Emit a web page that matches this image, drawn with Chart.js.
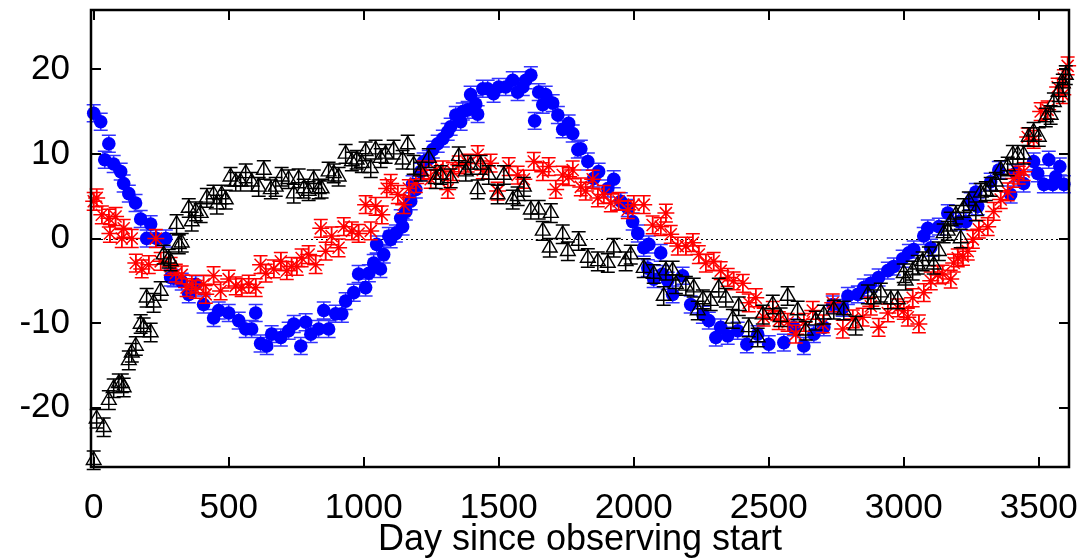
<!DOCTYPE html>
<html>
<head>
<meta charset="utf-8">
<script src="https://cdn.jsdelivr.net/npm/chart.js@4.4.1/dist/chart.umd.min.js"></script>
<style>
  html, body { margin: 0; padding: 0; background: #fff; }
  #wrap { width: 1086px; height: 558px; position: relative; }
</style>
</head>
<body>
<div id="wrap"><canvas id="chart"></canvas></div>
<script>
// blue filled circles
const blueDays = [0, 26, 41, 56, 74, 100, 111, 130, 155, 174, 196, 211, 233, 267, 285, 296, 326, 352, 378, 407,
  444, 463, 500, 537, 563, 585, 600, 618, 641, 659, 693, 722, 741, 767, 785, 804, 833, 852, 870, 896,
  919, 933, 963, 981, 1007, 1019, 1037, 1048, 1062, 1074, 1093, 1100, 1119, 1137, 1144, 1156, 1174, 1181, 1193, 1211,
  1222, 1241, 1256, 1274, 1293, 1311, 1322, 1341, 1359, 1367, 1385, 1396, 1415, 1422, 1441, 1459, 1481, 1500, 1526, 1552,
  1570, 1589, 1600, 1619, 1633, 1648, 1663, 1674, 1700, 1719, 1737, 1759, 1774, 1793, 1804, 1830, 1852, 1870, 1904, 1926,
  1952, 1978, 1996, 2015, 2037, 2052, 2056, 2074, 2100, 2107, 2126, 2144, 2181, 2211, 2256, 2278, 2304, 2322, 2348, 2385,
  2419, 2459, 2500, 2556, 2593, 2630, 2667, 2704, 2737, 2774, 2793, 2830, 2852, 2878, 2907, 2941, 2963, 2996, 3019, 3037,
  3074, 3089, 3100, 3130, 3163, 3204, 3230, 3248, 3267, 3274, 3322, 3352, 3396, 3415, 3444, 3481, 3496, 3519, 3537, 3552,
  3563, 3578, 3593];
const blueValues = [14.8, 13.8, 9.3, 11.2, 8.8, 7.9, 6.5, 5.3, 4.2, 2.3, 0.0, 1.7, 0.0, 0.0, -4.6, -4.7, -5.1, -6.6, -5.4, -7.8,
  -9.4, -8.5, -8.8, -9.7, -10.7, -10.7, -8.8, -12.4, -12.7, -11.3, -11.7, -10.9, -10.1, -12.7, -9.9, -11.3, -10.7, -8.5, -10.7, -8.9,
  -8.9, -7.4, -6.4, -4.2, -5.8, -4.1, -2.9, -0.7, -3.6, -1.9, 0.3, -0.1, 0.6, 2.4, 1.4, 3.2, 4.4, 6.4, 5.8, 7.9,
  9.1, 9.4, 10.5, 11.2, 11.8, 12.6, 13.2, 14.6, 13.8, 15.0, 15.2, 17.0, 15.9, 14.7, 17.7, 17.7, 17.1, 17.9, 17.9, 18.7,
  17.3, 17.9, 18.7, 19.3, 13.9, 17.3, 15.8, 17.0, 16.0, 14.6, 12.9, 13.6, 12.4, 10.5, 10.6, 9.1, 7.1, 7.9, 5.9, 7.0,
  4.4, 3.6, 2.0, 0.6, -1.1, -3.5, -0.7, -4.8, -1.7, -4.2, -5.0, -6.6, -4.4, -7.8, -9.0, -9.7, -11.7, -10.5, -11.5, -10.9,
  -12.5, -11.3, -12.5, -12.3, -10.5, -12.7, -11.3, -10.5, -7.8, -8.2, -6.8, -6.6, -5.8, -5.3, -4.6, -3.8, -3.3, -2.4, -1.7, -1.3,
  0.3, 1.2, -1.1, 1.4, 3.0, 2.0, 2.0, 4.4, 5.5, 3.8, 6.7, 8.1, 5.2, 7.7, 6.5, 9.1, 7.7, 6.4, 9.3, 6.4,
  7.3, 8.5, 6.4];

// black open triangles
const blackDays = [0, 11, 37, 56, 74, 93, 104, 111, 130, 141, 156, 174, 185, 196, 211, 222, 248, 259, 278, 285,
  307, 315, 326, 352, 363, 378, 396, 419, 444, 456, 474, 489, 507, 526, 544, 563, 585, 611, 630, 656,
  674, 696, 722, 741, 759, 778, 796, 815, 833, 844, 870, 889, 907, 933, 956, 974, 993, 1007, 1026, 1044,
  1063, 1081, 1111, 1144, 1163, 1185, 1211, 1241, 1267, 1285, 1322, 1352, 1378, 1396, 1422, 1433, 1463, 1496, 1519, 1552,
  1570, 1593, 1619, 1648, 1663, 1689, 1693, 1737, 1756, 1796, 1830, 1867, 1904, 1926, 1970, 1989, 2037, 2074, 2111, 2119,
  2144, 2156, 2193, 2222, 2237, 2256, 2285, 2315, 2341, 2367, 2389, 2426, 2459, 2478, 2515, 2544, 2570, 2607, 2637, 2674,
  2704, 2741, 2778, 2822, 2867, 2889, 2915, 2952, 2978, 3000, 3007, 3033, 3052, 3070, 3093, 3111, 3130, 3148, 3163, 3174,
  3193, 3211, 3222, 3241, 3267, 3285, 3304, 3322, 3341, 3359, 3385, 3404, 3422, 3444, 3463, 3481, 3500, 3526, 3544, 3556,
  3574, 3589, 3600];
const blackValues = [-26.2, -21.3, -22.3, -19.1, -17.7, -17.1, -17.1, -17.6, -14.4, -13.5, -12.7, -10.1, -10.5, -7.0, -11.1, -7.6, -6.2, -1.9, -2.4, -2.7,
  1.7, -0.7, -0.5, 3.6, 2.0, 3.2, 3.0, 4.8, 5.2, 4.0, 5.2, 4.6, 7.3, 6.7, 6.7, 7.7, 6.7, 6.1, 8.1, 5.8,
  6.1, 7.3, 7.0, 5.3, 7.1, 5.9, 5.6, 7.0, 5.8, 5.9, 7.9, 7.7, 7.3, 10.0, 9.1, 9.3, 8.9, 10.3, 8.3, 10.5,
  9.5, 10.0, 10.5, 9.3, 11.1, 8.7, 7.9, 9.5, 7.0, 7.5, 7.1, 9.7, 7.9, 8.7, 5.8, 8.7, 7.5, 5.2, 7.5, 4.6,
  5.0, 6.1, 3.4, 3.4, 0.9, -1.1, 3.0, 0.5, -1.5, -0.3, -2.3, -2.7, -2.9, -1.1, -2.7, -1.9, -3.5, -4.2, -6.8, -3.8,
  -3.8, -5.4, -5.6, -5.8, -8.5, -7.2, -7.4, -5.8, -7.0, -9.5, -8.0, -10.5, -11.7, -9.0, -7.8, -9.3, -6.8, -8.5, -10.9, -9.7,
  -9.0, -8.4, -8.5, -10.3, -6.6, -7.2, -6.4, -7.2, -7.2, -4.1, -5.0, -3.8, -3.1, -2.7, -2.1, -3.1, -1.5, 0.6, 0.9, 2.0,
  2.8, 0.0, 3.6, 4.4, 3.2, 5.4, 5.6, 6.1, 6.7, 8.1, 8.5, 9.9, 9.9, 9.9, 12.0, 12.6, 12.0, 14.3, 14.6, 16.1,
  17.3, 18.3, 19.3];

// red asterisks
const redDays = [0, 11, 30, 56, 60, 81, 104, 111, 141, 156, 178, 204, 230, 248, 285, 304, 326, 344, 363, 378,
  407, 415, 444, 470, 500, 526, 548, 574, 600, 618, 637, 667, 693, 715, 733, 752, 770, 796, 822, 841,
  859, 881, 907, 926, 956, 981, 1007, 1026, 1044, 1067, 1085, 1100, 1126, 1148, 1167, 1193, 1222, 1248, 1267, 1293,
  1311, 1330, 1352, 1385, 1422, 1441, 1470, 1496, 1537, 1570, 1593, 1630, 1663, 1685, 1711, 1737, 1759, 1774, 1804, 1822,
  1848, 1867, 1889, 1915, 1944, 1978, 2000, 2037, 2070, 2100, 2119, 2137, 2163, 2193, 2219, 2241, 2267, 2296, 2322, 2348,
  2370, 2404, 2426, 2452, 2481, 2515, 2537, 2570, 2600, 2630, 2663, 2700, 2737, 2774, 2811, 2848, 2878, 2907, 2941, 2978,
  3000, 3015, 3033, 3056, 3074, 3100, 3126, 3144, 3174, 3185, 3200, 3219, 3237, 3256, 3278, 3311, 3333, 3359, 3385, 3407,
  3426, 3444, 3459, 3481, 3507, 3533, 3570, 3589, 3593, 3607];
const redValues = [4.4, 4.8, 2.8, 2.4, 0.6, 2.6, 0.0, 1.2, 0.0, -2.9, -3.6, -3.1, 0.0, -2.7, -3.3, -4.1, -4.3, -5.8, -5.4, -6.0,
  -5.4, -6.6, -4.4, -6.2, -4.8, -5.6, -5.8, -5.4, -5.8, -3.1, -4.1, -3.6, -2.7, -3.8, -3.3, -3.3, -2.3, -1.9, -3.1, 1.2,
  -1.5, 0.3, -1.1, 1.4, 0.9, 0.6, 4.0, 0.9, 3.8, 2.8, 5.9, 6.5, 5.2, 4.0, 5.9, 6.5, 8.1, 7.0, 8.1, 8.1,
  5.8, 7.9, 8.7, 8.9, 9.9, 8.1, 8.9, 5.6, 8.5, 7.5, 7.0, 9.1, 7.9, 8.5, 5.8, 7.5, 7.3, 8.1, 6.1, 5.6,
  7.0, 4.8, 5.2, 4.2, 4.4, 3.4, 4.0, 4.0, 1.6, 1.4, 3.0, 0.5, -0.9, -0.9, -0.5, -1.9, -2.9, -2.7, -3.8, -4.6,
  -5.0, -5.3, -7.6, -7.0, -9.3, -8.5, -9.7, -9.9, -11.3, -9.9, -8.5, -10.1, -7.6, -10.7, -9.5, -9.3, -8.0, -10.5, -8.8, -8.2,
  -8.5, -9.3, -7.0, -10.1, -6.4, -5.0, -4.3, -4.2, -4.8, -2.9, -2.3, -2.1, -1.5, -0.1, 1.1, 1.4, 3.2, 4.6, 5.5, 7.1,
  7.5, 7.9, 12.0, 11.7, 15.0, 15.2, 17.9, 17.0, 18.9, 20.4];

const blueErr = 1.0;
const blackErr = 1.1;
const redErr = 1.05;

const xTicks = [0, 500, 1000, 1500, 2000, 2500, 3000, 3500];
const yTicks = [-20, -10, 0, 10, 20];

function toPoints(days, values) {
  return days.map((d, i) => ({ x: d, y: values[i] }));
}

const errorBarPlugin = {
  id: "errorBars",
  beforeDatasetDraw(chart, args) {
    const ds = chart.data.datasets[args.index];
    if (!ds.errorSize) return;
    const xs = chart.scales.x;
    const ys = chart.scales.y;
    const ctx = chart.ctx;
    ctx.save();
    ctx.strokeStyle = ds.errorColor;
    ctx.lineWidth = 1.5;
    ctx.beginPath();
    ds.data.forEach((p) => {
      const px = xs.getPixelForValue(p.x);
      const top = ys.getPixelForValue(p.y + ds.errorSize);
      const bot = ys.getPixelForValue(p.y - ds.errorSize);
      ctx.moveTo(px, top);
      ctx.lineTo(px, bot);
      ctx.moveTo(px - 7, top);
      ctx.lineTo(px + 7, top);
      ctx.moveTo(px - 7, bot);
      ctx.lineTo(px + 7, bot);
    });
    ctx.stroke();
    ctx.restore();
  },
};

const framePlugin = {
  id: "frame",
  beforeDatasetsDraw(chart) {
    const { ctx, chartArea: a, scales } = chart;
    const y0 = Math.round(scales.y.getPixelForValue(0)) + 0.5;
    ctx.save();
    ctx.strokeStyle = "#000";
    ctx.lineWidth = 1;
    ctx.setLineDash([2, 3]);
    ctx.beginPath();
    ctx.moveTo(a.left, y0);
    ctx.lineTo(a.right, y0);
    ctx.stroke();
    ctx.restore();
  },
  afterDraw(chart) {
    const { ctx, chartArea: a, scales } = chart;
    ctx.save();
    ctx.strokeStyle = "#000";
    ctx.lineWidth = 2;
    ctx.beginPath();
    xTicks.forEach((v) => {
      const px = Math.round(scales.x.getPixelForValue(v));
      ctx.moveTo(px, a.bottom);
      ctx.lineTo(px, a.bottom - 10);
      ctx.moveTo(px, a.top);
      ctx.lineTo(px, a.top + 10);
    });
    yTicks.forEach((v) => {
      const py = Math.round(scales.y.getPixelForValue(v));
      ctx.moveTo(a.left, py);
      ctx.lineTo(a.left + 10, py);
      ctx.moveTo(a.right, py);
      ctx.lineTo(a.right - 10, py);
    });
    ctx.stroke();
    ctx.lineWidth = 2.5;
    ctx.strokeRect(a.left, a.top, a.right - a.left, a.bottom - a.top);
    ctx.restore();
  },
};

const fontFamily = "'Liberation Sans', Arial, Helvetica, sans-serif";
const tickFont = { family: fontFamily, size: 35 };

function fixPadding(s) {
  s.paddingTop = 0;
  s.paddingBottom = 0;
  s.paddingLeft = 0;
  s.paddingRight = 0;
}

new Chart(document.getElementById("chart"), {
  type: "scatter",
  data: {
    datasets: [
      {
        label: "blue",
        data: toPoints(blueDays, blueValues),
        pointStyle: "circle",
        radius: 6.8,
        backgroundColor: "#0000ff",
        borderColor: "#0000ff",
        borderWidth: 0,
        errorSize: blueErr,
        errorColor: "#3333ff",
        order: 3,
        clip: false,
      },
      {
        label: "red",
        data: toPoints(redDays, redValues),
        pointStyle: "star",
        radius: 8.5,
        backgroundColor: "transparent",
        borderColor: "#ff0000",
        borderWidth: 1.5,
        errorSize: redErr,
        errorColor: "#ff0000",
        order: 2,
        clip: false,
      },
      {
        label: "black",
        data: toPoints(blackDays, blackValues),
        pointStyle: "triangle",
        radius: 8.5,
        backgroundColor: "transparent",
        borderColor: "#000000",
        borderWidth: 1.4,
        errorSize: blackErr,
        errorColor: "#000000",
        order: 1,
        clip: false,
      },
    ],
  },
  options: {
    responsive: true,
    maintainAspectRatio: false,
    animation: false,
    events: [],
    layout: { padding: { top: 8, right: 17, left: 0, bottom: 0 } },
    plugins: {
      legend: { display: false },
      tooltip: { enabled: false },
    },
    scales: {
      x: {
        type: "linear",
        min: -10,
        max: 3612,
        afterBuildTicks: (s) => { s.ticks = xTicks.map((v) => ({ value: v })); },
        afterFit: (s) => { s.height = 91; fixPadding(s); },
        ticks: { color: "#000", font: tickFont, padding: 12, maxRotation: 0, callback: (v) => String(v) },
        grid: { display: false },
        border: { display: false },
        title: {
          display: true,
          text: "Day since observing start",
          color: "#000",
          font: { family: fontFamily, size: 36, lineHeight: 1.0 },
          padding: { top: 0, bottom: 0 },
        },
      },
      y: {
        type: "linear",
        min: -27,
        max: 27,
        afterBuildTicks: (s) => { s.ticks = yTicks.map((v) => ({ value: v })); },
        afterFit: (s) => { s.width = 91; fixPadding(s); },
        ticks: { color: "#000", font: tickFont, padding: 13, callback: (v) => String(v) },
        grid: { display: false },
        border: { display: false },
      },
    },
  },
  plugins: [errorBarPlugin, framePlugin],
});
</script>
</body>
</html>
